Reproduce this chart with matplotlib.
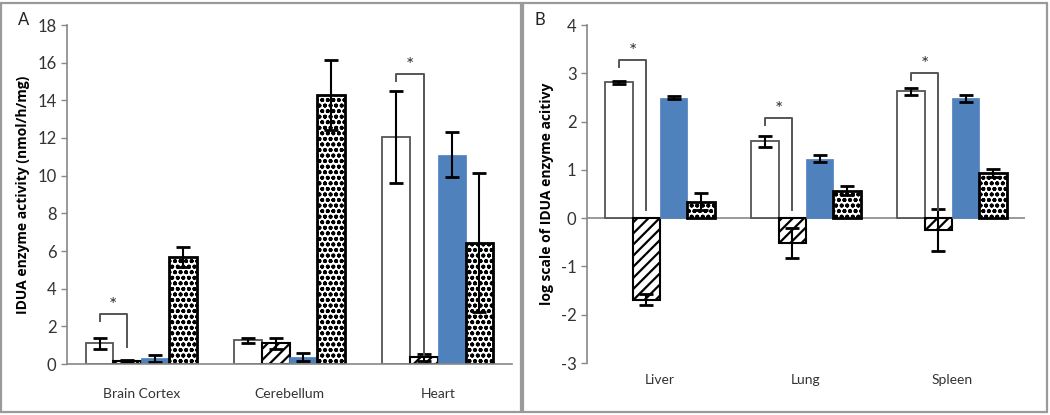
import matplotlib.pyplot as plt
import matplotlib.patches as mpatches
import numpy as np

plt.rcParams['font.family'] = ['Lato', 'DejaVu Sans']
plt.rcParams['axes.unicode_minus'] = False

# panel A data
tissues_a = ['Brain Cortex', 'Cerebellum', 'Heart']
white_a = [1.1, 1.25, 12.05]
white_a_err = [0.28, 0.12, 2.45]
hatch_a = [0.17, 1.1, 0.35]
hatch_a_err = [0.05, 0.28, 0.2]
blue_a = [0.3, 0.37, 11.12]
blue_a_err = [0.17, 0.22, 1.18]
dot_a = [5.68, 14.28, 6.45]
dot_a_err = [0.52, 1.88, 3.7]

# panel B data
tissues_b = ['Liver', 'Lung', 'Spleen']
white_b = [2.81, 1.59, 2.63]
white_b_err = [0.04, 0.11, 0.07]
hatch_b = [-1.69, -0.51, -0.25]
hatch_b_err = [0.11, 0.31, 0.43]
blue_b = [2.49, 1.23, 2.48]
blue_b_err = [0.03, 0.07, 0.07]
dot_b = [0.34, 0.57, 0.94]
dot_b_err = [0.18, 0.1, 0.08]

# significance brackets: (category index, top, left leg bottom, right leg bottom)
sig_a = [(0, 2.65, 2.3, 0.9), (2, 15.4, 15.05, 0.5)]
sig_b = [(0, 3.27, 3.13, 0.17), (1, 2.07, 1.92, 0.17), (2, 3.0, 2.86, 0.17)]

blue = '#4F81BD'
w = 0.187

fig = plt.figure(figsize=(10.5, 4.15), dpi=100)

# panel frames
for x0, x1 in [(1, 521), (523, 1047)]:
    fig.patches.append(mpatches.Rectangle((x0 / 1050, 3 / 415), (x1 - x0) / 1050, 409 / 415,
                                          transform=fig.transFigure, fill=False,
                                          edgecolor='#9a9a9a', linewidth=1.6))


def draw_panel(ax, cats, white, we, hat, he, blu, be, dot, de, sig):
    x = np.arange(len(cats))
    ek = dict(ecolor='black', elinewidth=1.5, capsize=5, capthick=2)
    ax.bar(x - 1.5 * w, white, w, yerr=we, color='white', edgecolor='#555555',
           linewidth=1.3, error_kw=ek, zorder=2)
    plt.rcParams['hatch.linewidth'] = 1.6
    ax.bar(x - 0.5 * w, hat, w, yerr=he, color='white', edgecolor='black',
           hatch='///', linewidth=1.5, error_kw=ek, zorder=2)
    ax.bar(x + 0.5 * w, blu, w, yerr=be, color=blue, edgecolor=blue,
           linewidth=0.5, error_kw=ek, zorder=2)
    plt.rcParams['hatch.linewidth'] = 1.25
    ax.bar(x + 1.5 * w, dot, w, yerr=de, color='white', edgecolor='black',
           hatch='ooo...', linewidth=2, error_kw=ek, zorder=2)
    for i, top, lb, rb in sig:
        xl = i - 1.5 * w
        xr = i - 0.5 * w
        ax.plot([xl, xl, xr, xr], [lb, top, top, rb], color='#555555', lw=1.4, zorder=3)
        ax.text((xl + xr) / 2, top, '*', ha='center', va='bottom', fontsize=14,
                color='#333333')
    ax.set_xlim(-0.5, len(cats) - 0.5)
    ax.set_xticks(x)
    ax.set_xticklabels(cats, fontsize=10, color='#333333')
    ax.tick_params(axis='x', length=0)
    ax.tick_params(axis='y', labelsize=12, colors='#333333', length=4,
                   color='#888888', width=1)
    for s in ['top', 'right']:
        ax.spines[s].set_visible(False)
    ax.spines['left'].set_color('#888888')
    ax.spines['left'].set_linewidth(1.2)


axA = fig.add_axes([67 / 1050, 1 - 364 / 415, 445 / 1050, 339 / 415])
draw_panel(axA, tissues_a, white_a, white_a_err, hatch_a, hatch_a_err,
           blue_a, blue_a_err, dot_a, dot_a_err, sig_a)
axA.set_ylim(0, 18)
axA.set_yticks(range(0, 19, 2))
axA.spines['bottom'].set_color('#888888')
axA.spines['bottom'].set_linewidth(1.2)
axA.tick_params(axis='x', pad=17)
axA.set_ylabel('IDUA enzyme activity (nmol/h/mg)', fontsize=10,
               fontweight='bold', family=['Open Sans', 'DejaVu Sans'], labelpad=5)
fig.text(18 / 1050, 1 - 20 / 415, 'A', fontsize=12, va='center', color='#222222')

axB = fig.add_axes([587 / 1050, 1 - 363 / 415, 438 / 1050, 338 / 415])
draw_panel(axB, tissues_b, white_b, white_b_err, hatch_b, hatch_b_err,
           blue_b, blue_b_err, dot_b, dot_b_err, sig_b)
axB.set_ylim(-3, 4)
axB.set_yticks(range(-3, 5))
axB.spines['bottom'].set_visible(False)
axB.axhline(0, color='#888888', lw=1.2, zorder=1)
axB.tick_params(axis='x', pad=8)
axB.set_ylabel('log scale of IDUA enzyme acitivy', fontsize=10,
               fontweight='bold', family=['Open Sans', 'DejaVu Sans'], labelpad=5)
fig.text(535 / 1050, 1 - 20 / 415, 'B', fontsize=12, va='center', color='#222222')

fig.savefig('out.png', dpi=100)
